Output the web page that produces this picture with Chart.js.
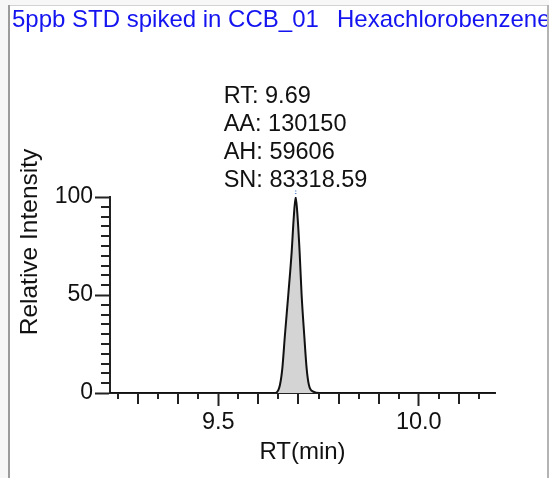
<!DOCTYPE html>
<html>
<head>
<meta charset="utf-8">
<script src="https://cdn.jsdelivr.net/npm/chart.js@4.4.1/dist/chart.umd.min.js"></script>
<style>
  html, body { margin: 0; padding: 0; background: #fff; }
  canvas { display: block; }
</style>
</head>
<body>
<canvas id="chrom" width="549" height="478"></canvas>
<script>
// chromatogram trace
const rtValues = [9.23, 9.60, 9.640, 9.6455, 9.6537, 9.6597, 9.6662, 9.6745, 9.683, 9.688, 9.693, 9.698, 9.7028, 9.7078, 9.7143, 9.7203, 9.726, 9.737, 9.753, 9.80, 10.19];
const intensityValues = [0, 0, 0, 0.3, 4.1, 12.6, 29.6, 50, 72, 89, 100, 89, 72, 50, 29.6, 12.6, 4.1, 0.7, 0, 0, 0];

const peakRT = 9.693;
const peakInfo = ["RT: 9.69", "AA: 130150", "AH: 59606", "SN: 83318.59"];
const titleLeft = "5ppb STD spiked in CCB_01";
const titleRight = "Hexachlorobenzene";

const xTicks = [9.5, 10.0];
const xMediumTicks = [9.3, 9.4, 9.6, 9.7, 9.8, 9.9, 10.1];
const xSmallTicks = [9.25, 9.35, 9.45, 9.55, 9.65, 9.75, 9.85, 9.95, 10.05, 10.15];
const yTicks = [0, 50, 100];
const yMinorTicks = [5, 10, 15, 20, 25, 30, 35, 40, 45, 55, 60, 65, 70, 75, 80, 85, 90, 95];

const FONT = "Arial, 'Liberation Sans', sans-serif";

// frame, header, minor ticks, peak label
const decor = {
  id: 'decor',
  beforeDraw(chart) {
    const { ctx, width, height } = chart;
    ctx.save();
    ctx.fillStyle = '#f7f7f7';
    ctx.fillRect(0, 0, width, height);
    ctx.fillStyle = '#ffffff';
    ctx.fillRect(9, 5, width - 10, height - 5);
    ctx.strokeStyle = '#d2d2d2';
    ctx.lineWidth = 1;
    ctx.beginPath(); ctx.moveTo(9, 5.5); ctx.lineTo(width, 5.5); ctx.stroke();
    ctx.restore();
  },
  afterDraw(chart) {
    const { ctx, chartArea, width, height } = chart;
    const x = chart.scales.x, y = chart.scales.y;
    ctx.save();

    // header (clipped by the right frame line)
    ctx.save();
    ctx.beginPath(); ctx.rect(10, 6, 537, 40); ctx.clip();
    ctx.fillStyle = '#1414f0';
    ctx.font = '24px ' + FONT;
    ctx.textBaseline = 'middle';
    ctx.textAlign = 'left';
    ctx.fillText(titleLeft, 12, 20);
    ctx.fillText(titleRight, 337, 20);
    ctx.restore();

    // side frame lines
    ctx.lineWidth = 2;
    ctx.strokeStyle = '#9c9c9c';
    ctx.beginPath(); ctx.moveTo(9, 5); ctx.lineTo(9, height); ctx.stroke();
    ctx.strokeStyle = '#b4b4b4';
    ctx.beginPath(); ctx.moveTo(548, 5); ctx.lineTo(548, height); ctx.stroke();

    // minor ticks
    ctx.strokeStyle = '#222';
    ctx.lineWidth = 2;
    ctx.beginPath();
    xMediumTicks.forEach(v => {
      const px = Math.round(x.getPixelForValue(v));
      ctx.moveTo(px, chartArea.bottom); ctx.lineTo(px, chartArea.bottom + 11);
    });
    xSmallTicks.forEach(v => {
      const px = Math.round(x.getPixelForValue(v));
      ctx.moveTo(px, chartArea.bottom); ctx.lineTo(px, chartArea.bottom + 6);
    });
    yMinorTicks.forEach(v => {
      const py = Math.round(y.getPixelForValue(v));
      ctx.moveTo(chartArea.left, py); ctx.lineTo(chartArea.left - 9, py);
    });
    ctx.stroke();

    // y axis title
    ctx.fillStyle = '#111';
    ctx.font = '24.5px ' + FONT;
    ctx.textBaseline = 'middle';
    ctx.translate(30, 242);
    ctx.rotate(-Math.PI / 2);
    ctx.textAlign = 'center';
    ctx.fillText('Relative Intensity', 0, 0);
    ctx.setTransform(1, 0, 0, 1, 0, 0);

    // peak annotation
    ctx.font = '23.5px ' + FONT;
    ctx.textAlign = 'left';
    const lx = x.getPixelForValue(peakRT) - 72;
    peakInfo.forEach((t, i) => {
      ctx.fillText(t, lx, chartArea.top - 100 + i * 28);
    });
    ctx.restore();
  }
};

const points = rtValues.map((rt, i) => ({ x: rt, y: intensityValues[i] }));

new Chart(document.getElementById('chrom'), {
  type: 'line',
  data: {
    datasets: [{
      data: points,
      borderColor: '#111',
      borderWidth: 2,
      backgroundColor: '#d4d4d4',
      fill: 'origin',
      pointRadius: 0,
      cubicInterpolationMode: 'monotone'
    }, {
      // little dotted apex marker
      data: [{ x: peakRT, y: 101.5 }, { x: peakRT, y: 104 }],
      borderColor: '#5a8ad6',
      borderWidth: 1.5,
      borderDash: [1, 1.5],
      pointRadius: 0,
      clip: false
    }]
  },
  options: {
    responsive: false,
    animation: false,
    devicePixelRatio: 1,
    layout: { padding: { left: 0, right: 54, top: 197, bottom: 0 } },
    plugins: {
      legend: { display: false },
      tooltip: { enabled: false },
      title: { display: false }
    },
    scales: {
      x: {
        type: 'linear',
        min: 9.23,
        max: 10.19,
        afterBuildTicks: s => { s.ticks = xTicks.map(v => ({ value: v })); },
        afterFit: s => { s.height = 85; },
        grid: { drawOnChartArea: false, tickLength: 13, tickWidth: 2, tickColor: '#222' },
        border: { display: true, color: '#222', width: 2 },
        ticks: {
          autoSkip: false, maxRotation: 0, padding: 2,
          color: '#111', font: { family: FONT, size: 23.5 },
          callback: v => v.toFixed(1)
        },
        title: {
          display: true, text: 'RT(min)', color: '#111',
          font: { family: FONT, size: 24 }, padding: { top: 0, bottom: 11 }
        }
      },
      y: {
        min: 0,
        max: 100,
        afterBuildTicks: s => { s.ticks = yTicks.map(v => ({ value: v })); },
        afterFit: s => { s.width = 110; },
        grid: { drawOnChartArea: false, tickLength: 15, tickWidth: 2, tickColor: '#222' },
        border: { display: true, color: '#222', width: 2 },
        ticks: {
          autoSkip: false, padding: 2,
          color: '#111', font: { family: FONT, size: 23 },
          callback: v => String(v)
        }
      }
    }
  },
  plugins: [decor]
});
</script>
</body>
</html>
